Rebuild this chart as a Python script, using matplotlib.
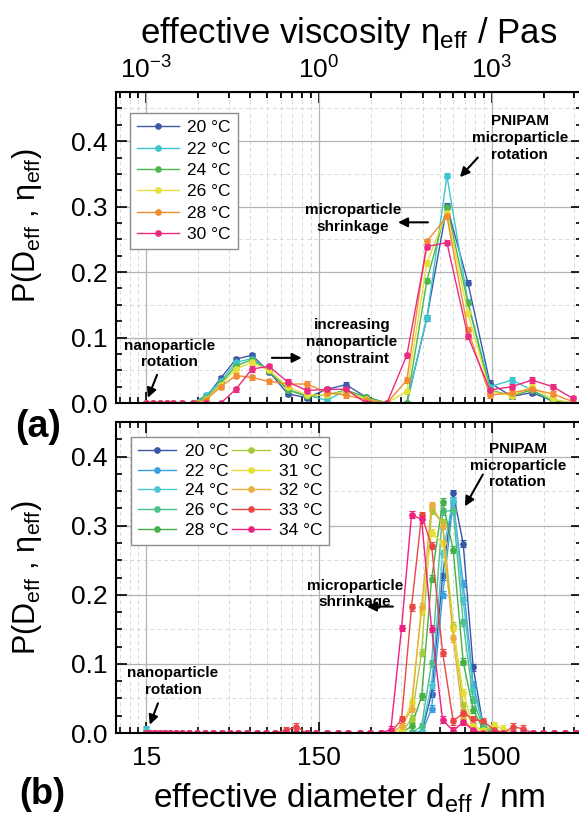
import numpy as np
import matplotlib
matplotlib.use('Agg')
import matplotlib.pyplot as plt
from matplotlib.ticker import MultipleLocator, FixedLocator, NullFormatter, FormatStrFormatter

plt.rcParams['font.family'] = ['Liberation Sans', 'DejaVu Sans']
plt.rcParams['mathtext.fontset'] = 'custom'
plt.rcParams['mathtext.rm'] = 'Liberation Sans'
plt.rcParams['mathtext.it'] = 'Liberation Sans:italic'
plt.rcParams['mathtext.bf'] = 'Liberation Sans:bold'

# ---- panel (a) data ----
temps_a = ['20 °C', '22 °C', '24 °C', '26 °C', '28 °C', '30 °C']
colors_a = ['#3d5aa9', '#3cc6cf', '#4cb74a', '#e5e03a', '#f28b31', '#ec2a7f']
d_a = [15.0, 16.4, 18.0, 19.7, 21.4, 24.1, 27.9, 33.2, 40.5, 49.5, 61.3, 76.9, 99,
       128, 167, 215, 281, 371, 484, 632, 826, 1092, 1464, 1965, 2563, 3391, 4428]
p_a_20 = [0, 0, 0, 0, 0, 0, 0, 0.009, 0.038, 0.067, 0.073, 0.048, 0.014, 0.008, 0.021,
          0.028, 0.009, 0, 0, 0.130, 0.301, 0.184, 0.031, 0.010, 0.016, 0.003, 0]
p_a_22 = [0, 0, 0, 0, 0, 0, 0, 0.012, 0.033, 0.062, 0.068, 0.050, 0.020, 0.012, 0.004,
          0.020, 0.005, 0, 0, 0.130, 0.347, 0.155, 0.025, 0.035, 0.020, 0.002, 0]
p_a_24 = [0, 0, 0, 0, 0, 0, 0, 0.008, 0.030, 0.057, 0.066, 0.049, 0.020, 0.010, 0.012,
          0.020, 0.009, 0, 0, 0.187, 0.300, 0.153, 0.020, 0.011, 0.020, 0.003, 0]
p_a_26 = [0, 0, 0, 0, 0, 0, 0, 0.006, 0.028, 0.052, 0.062, 0.050, 0.025, 0.012, 0.012,
          0.018, 0.006, 0, 0.018, 0.214, 0.291, 0.137, 0.018, 0.011, 0.025, 0.006, 0]
p_a_28 = [0, 0, 0, 0, 0, 0, 0, 0.005, 0.025, 0.042, 0.039, 0.033, 0.029, 0.029, 0.016,
          0.012, 0.005, 0, 0.035, 0.247, 0.285, 0.112, 0.012, 0.016, 0.021, 0.014, 0.002]
p_a_30 = [0, 0, 0, 0, 0, 0, 0, 0, 0, 0.021, 0.052, 0.056, 0.032, 0.019, 0.021,
          0.021, 0, 0, 0.073, 0.239, 0.245, 0.102, 0.020, 0.025, 0.035, 0.025, 0.007]
series_a = [p_a_20, p_a_22, p_a_24, p_a_26, p_a_28, p_a_30]
err_a = 0.004

# ---- panel (b) data ----
temps_b = ['20 °C', '22 °C', '24 °C', '26 °C', '28 °C',
           '30 °C', '31 °C', '32 °C', '33 °C', '34 °C']
colors_b = ['#3b55a6', '#3a9ee0', '#4ac8d2', '#4cc08c', '#45b045',
            '#a6ca3a', '#e6e02e', '#e9ae3e', '#ea4646', '#ee2080']
d_b = [15.0, 15.7, 16.8, 18.0, 19.2, 20.5, 22.3, 24.0, 26.5, 29.3, 32.7, 36.6, 40.9,
       45.7, 51.1, 57.1, 65.3, 73.9, 83.6, 96.4, 111, 127, 145, 166, 194, 221, 259,
       296, 341, 391, 451, 515, 589, 673, 780, 898, 1026, 1172, 1340, 1545, 1750,
       2000, 2281, 2608, 2980, 3451, 3980, 4613]
# values from bin 28 (341 nm) on; all smaller bins are zero unless stated
p_b_20 = [0] * 28 + [0, 0, 0, 0, 0, 0.057, 0.227, 0.347, 0.274, 0.095, 0.010, 0, 0, 0, 0, 0, 0, 0, 0, 0]
p_b_22 = [0.004] + [0] * 27 + [0, 0, 0, 0, 0, 0.035, 0.200, 0.335, 0.216, 0.070, 0.010, 0.003, 0, 0, 0, 0, 0, 0, 0, 0]
p_b_24 = [0.005] + [0] * 27 + [0, 0, 0, 0, 0.003, 0.070, 0.260, 0.337, 0.192, 0.062, 0.012, 0.003, 0, 0, 0, 0, 0, 0, 0, 0]
p_b_26 = [0] * 28 + [0, 0, 0, 0, 0.010, 0.101, 0.321, 0.322, 0.160, 0.048, 0.008, 0, 0, 0, 0, 0, 0, 0, 0, 0]
p_b_28 = [0] * 28 + [0, 0, 0, 0.010, 0.053, 0.223, 0.335, 0.265, 0.103, 0.034, 0.005, 0, 0, 0, 0, 0, 0, 0, 0, 0]
p_b_30 = [0] * 28 + [0, 0, 0, 0.021, 0.116, 0.322, 0.305, 0.155, 0.040, 0.010, 0.003, 0.006, 0, 0, 0, 0, 0, 0, 0, 0]
p_b_31 = [0] * 28 + [0, 0, 0.005, 0.045, 0.176, 0.290, 0.275, 0.152, 0.058, 0.010, 0.004, 0.011, 0.006, 0, 0, 0, 0, 0, 0, 0]
p_b_32 = [0] * 28 + [0, 0, 0.010, 0.035, 0.183, 0.330, 0.300, 0.137, 0.020, 0.005, 0, 0, 0, 0, 0, 0, 0, 0, 0, 0]
p_b_33 = [0] * 19 + [0.004, 0.009] + [0] * 7 + [0, 0, 0.020, 0.182, 0.315, 0.271, 0.116, 0.017, 0.029, 0.020, 0.017, 0.005, 0, 0.009, 0.006, 0, 0, 0, 0, 0]
p_b_34 = [0] * 28 + [0, 0.005, 0.152, 0.316, 0.309, 0.151, 0.019, 0.003, 0.016, 0.004, 0, 0, 0, 0, 0, 0, 0, 0, 0, 0]
series_b = [p_b_20, p_b_22, p_b_24, p_b_26, p_b_28, p_b_30, p_b_31, p_b_32, p_b_33, p_b_34]
err_b = 0.005

major_d = [15, 150, 1500]
minor_d = [m * k for m in (1.5, 15, 150, 1500) for k in range(2, 10) if 10 <= m * k <= 5000]


def d_to_eta(d):
    return 1e-3 * (np.asarray(d, dtype=float) / 15.0) ** 3


def eta_to_d(eta):
    return 15.0 * np.cbrt(np.asarray(eta, dtype=float) / 1e-3)


def style_axis(ax, ytop):
    ax.set_xscale('log')
    ax.set_xlim(10, 5000)
    ax.set_ylim(0, ytop)
    ax.xaxis.set_major_locator(FixedLocator(major_d))
    ax.xaxis.set_minor_locator(FixedLocator(minor_d))
    ax.xaxis.set_major_formatter(FormatStrFormatter('%d'))
    ax.xaxis.set_minor_formatter(NullFormatter())
    ax.yaxis.set_major_locator(MultipleLocator(0.1))
    ax.yaxis.set_minor_locator(MultipleLocator(0.025))
    ax.yaxis.set_major_formatter(FormatStrFormatter('%.1f'))
    ax.tick_params(which='both', direction='in', right=True, top=True, width=1.2)
    ax.tick_params(axis='both', labelsize=19)
    ax.tick_params(which='major', length=8, pad=6)
    ax.tick_params(axis='x', which='major', pad=9)
    ax.tick_params(which='minor', length=4.5)
    for s in ax.spines.values():
        s.set_linewidth(1.5)
    ax.set_axisbelow(True)
    ax.grid(which='major', color='#b4b4b4', lw=0.9)
    ax.grid(which='minor', axis='x', color='#dadada', lw=0.7, ls=(0, (4, 3)))
    for yv in np.arange(0.05, ytop, 0.1):
        ax.axhline(yv, color='#dadada', lw=0.7, ls=(0, (4, 3)), zorder=0)


def draw(ax, d, series, colors, err):
    handles = []
    for p, c in zip(series, colors):
        p = np.asarray(p, dtype=float)
        cont = ax.errorbar(d, p, yerr=np.where(p > 0, err, 0), fmt='-o', color=c,
                           ms=3.8, lw=1.0, elinewidth=0.8, capsize=2.5,
                           capthick=0.8)
        handles.append(cont[0])
    return handles


def note(ax, text, xy_text, xy_tail, xy_head):
    ax.text(xy_text[0], xy_text[1], text, ha='center', va='center', fontsize=11,
            fontweight='bold', linespacing=1.25)
    ax.annotate('', xy=xy_head, xytext=xy_tail,
                arrowprops=dict(arrowstyle='-|>', color='k', lw=1.5,
                                mutation_scale=14, shrinkA=0, shrinkB=0))


fig = plt.figure(figsize=(5.79, 8.16), dpi=100)
ax_a = fig.add_axes([0.2003, 0.5061, 0.8048, 0.3811])
ax_b = fig.add_axes([0.2003, 0.1017, 0.8048, 0.3811])

ylabel = r'P(D$_{\mathregular{eff}}$ , $\mathregular{\eta_{eff}}$)'

# panel (a)
style_axis(ax_a, 0.475)
h_a = draw(ax_a, d_a, series_a, colors_a, err_a)
ax_a.tick_params(labelbottom=False, top=False)
sec = ax_a.secondary_xaxis('top', functions=(d_to_eta, eta_to_d))
sec.set_xticks([1e-3, 1, 1e3])
sec.set_xticklabels([r'10$^{\mathregular{-3}}$', r'10$^{\mathregular{0}}$',
                     r'10$^{\mathregular{3}}$'])
sec.set_xticks(d_to_eta(minor_d), minor=True)
sec.xaxis.set_minor_formatter(NullFormatter())
sec.tick_params(which='both', direction='in', width=1.2, labelsize=19)
sec.tick_params(which='major', length=8, pad=6)
sec.tick_params(which='minor', length=4.5)
sec.set_xlabel(r'effective viscosity $\mathregular{\eta_{eff}}$ / Pas', fontsize=25,
               labelpad=10)
ax_a.set_ylabel(ylabel, fontsize=22)
ax_a.yaxis.set_label_coords(-0.155, 0.57)
ax_a.legend(handles=h_a, labels=temps_a, loc='upper left', bbox_to_anchor=(0.03, 0.932),
            borderaxespad=0, fontsize=12.5, handlelength=2.4, labelspacing=0.36,
            handletextpad=0.5, borderpad=0.4, fancybox=False, framealpha=1,
            edgecolor='#8c8c8c')

note(ax_a, 'PNIPAM\nmicroparticle\nrotation', (2183, 0.405), (1247, 0.375), (982, 0.345))
note(ax_a, 'microparticle\nshrinkage', (236, 0.282), (641, 0.276), (430, 0.276))
note(ax_a, 'increasing\nnanoparticle\nconstraint', (233, 0.093), (80, 0.069), (119, 0.069))
note(ax_a, 'nanoparticle\nrotation', (20.5, 0.075), (17.3, 0.043), (15.3, 0.008))

# panel (b)
style_axis(ax_b, 0.45)
h_b = draw(ax_b, d_b, series_b, colors_b, err_b)
ax_b.set_xlabel(r'effective diameter d$_{\mathregular{eff}}$ / nm', fontsize=24,
                labelpad=9)
ax_b.set_ylabel(ylabel, fontsize=22)
ax_b.yaxis.set_label_coords(-0.155, 0.50)
ax_b.legend(handles=h_b, labels=temps_b, loc='upper left', bbox_to_anchor=(0.032, 0.952),
            ncol=2, borderaxespad=0, fontsize=12.5, handlelength=2.2,
            labelspacing=0.26, handletextpad=0.5, columnspacing=0.2, borderpad=0.4,
            fancybox=False, framealpha=1, edgecolor='#8c8c8c')

note(ax_b, 'PNIPAM\nmicroparticle\nrotation', (2129, 0.387), (1333, 0.374), (1050, 0.328))
note(ax_b, 'microparticle\nshrinkage', (242, 0.201), (402, 0.183), (284, 0.183))
note(ax_b, 'nanoparticle\nrotation', (21.4, 0.075), (17.5, 0.043), (15.7, 0.012))

fig.text(38 / 579, 1 - 427 / 816, '(a)', fontsize=27, fontweight='bold',
         ha='center', va='center')
fig.text(42 / 579, 1 - 795 / 816, '(b)', fontsize=26, fontweight='bold',
         ha='center', va='center')

fig.savefig('out.png', dpi=100)
